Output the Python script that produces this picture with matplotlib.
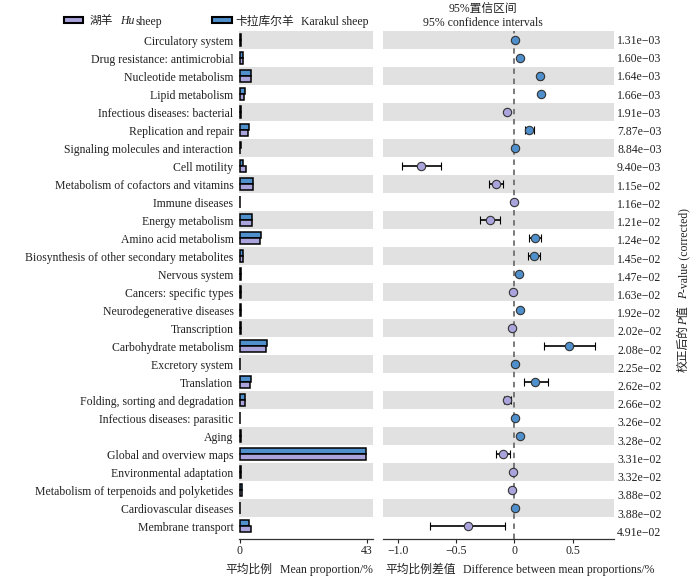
import matplotlib
matplotlib.use('Agg')
import matplotlib.pyplot as plt
from matplotlib.patches import Rectangle
import matplotlib.transforms as mtransforms
import numpy as np

plt.rcParams['font.family'] = ['Liberation Serif', 'Noto Sans CJK SC']
plt.rcParams['axes.unicode_minus'] = True

categories = [
    "Circulatory system", "Drug resistance: antimicrobial", "Nucleotide metabolism",
    "Lipid metabolism", "Infectious diseases: bacterial", "Replication and repair",
    "Signaling molecules and interaction", "Cell motility",
    "Metabolism of cofactors and vitamins", "Immune diseases", "Energy metabolism",
    "Amino acid metabolism", "Biosynthesis of other secondary metabolites",
    "Nervous system", "Cancers: specific types", "Neurodegenerative diseases",
    "Transcription", "Carbohydrate metabolism", "Excretory system", "Translation",
    "Folding, sorting and degradation", "Infectious diseases: parasitic", "Aging",
    "Global and overview maps", "Environmental adaptation",
    "Metabolism of terpenoids and polyketides", "Cardiovascular diseases",
    "Membrane transport",
]
hu_mean = [0.28, 0.95, 3.75, 1.55, 0.45, 2.85, 0.25, 2.0, 4.6, 0.2, 4.3, 6.85, 1.0,
           0.3, 0.35, 0.4, 0.35, 8.9, 0.1, 3.5, 1.7, 0.15, 0.3, 42.8, 0.3, 0.8, 0.2, 3.7]
karakul_mean = [0.28, 1.0, 3.97, 1.78, 0.38, 2.98, 0.26, 1.2, 4.44, 0.19, 4.09, 7.03, 1.17,
                0.34, 0.335, 0.45, 0.33, 9.37, 0.106, 3.68, 1.64, 0.156, 0.35, 42.7, 0.285,
                0.78, 0.2, 3.3]
diff = [0.003, 0.05, 0.222, 0.228, -0.065, 0.128, 0.006, -0.80, -0.16, -0.006, -0.207,
        0.176, 0.165, 0.044, -0.015, 0.047, -0.02, 0.47, 0.006, 0.182, -0.06, 0.006,
        0.05, -0.094, -0.015, -0.018, 0.003, -0.40]
ci_low = [-0.001, 0.042, 0.207, 0.218, -0.072, 0.09, 0.002, -0.965, -0.214, -0.01,
          -0.29, 0.128, 0.114, 0.038, -0.02, 0.041, -0.025, 0.254, 0.002, 0.083, -0.086,
          0.002, 0.038, -0.154, -0.02, -0.023, -0.001, -0.72]
ci_high = [0.007, 0.058, 0.237, 0.238, -0.058, 0.168, 0.01, -0.63, -0.097, -0.002,
           -0.12, 0.228, 0.219, 0.05, -0.01, 0.053, -0.015, 0.69, 0.01, 0.29, -0.032,
           0.01, 0.062, -0.034, -0.01, -0.013, 0.007, -0.077]
p_values = ["1.31e−03", "1.60e−03", "1.64e−03", "1.66e−03", "1.91e−03", "7.87e−03",
            "8.84e−03", "9.40e−03", "1.15e−02", "1.16e−02", "1.21e−02", "1.24e−02",
            "1.45e−02", "1.47e−02", "1.63e−02", "1.92e−02", "2.02e−02", "2.08e−02",
            "2.25e−02", "2.62e−02", "2.66e−02", "3.26e−02", "3.28e−02", "3.31e−02",
            "3.32e−02", "3.88e−02", "3.88e−02", "4.91e−02"]
left_ticks = [0, 43]
right_ticks = [-1.0, -0.5, 0, 0.5]
right_tick_labels = ["−1.0", "−0.5", "0", "0.5"]

BLUE = '#4f8fcb'
PURPLE = '#aaa4dc'
BAND = '#e1e1e1'
FS = 8.5

W, H = 700, 578
fig = plt.figure(figsize=(7, 5.78), dpi=100)


def fx(x):
    return x / W


def fy(y):
    return 1 - y / H


top_px, bot_px = 31, 539
axL = fig.add_axes([fx(239), fy(bot_px), (373 - 239) / W, (bot_px - top_px) / H])
axR = fig.add_axes([fx(383), fy(bot_px), (614 - 383) / W, (bot_px - top_px) / H])

n = len(categories)
y = np.arange(n)
for ax in (axL, axR):
    for i in range(0, n, 2):
        ax.axhspan(i - 0.48, i + 0.48, color=BAND, lw=0, zorder=0)
    ax.set_ylim(n - 1 + 0.72, -0.5)
    for s in ['top', 'right', 'left']:
        ax.spines[s].set_visible(False)
    ax.spines['bottom'].set_linewidth(0.9)
    ax.spines['bottom'].set_color('#333333')
    ax.tick_params(axis='y', length=0)
    ax.tick_params(axis='x', labelsize=FS, length=3, width=0.8, direction='out', pad=1.5,
                   colors='#222222')

# Left: bars
axL.barh(y - 0.175, karakul_mean, height=0.35, color=BLUE, edgecolor='black', lw=1.1, zorder=2)
axL.barh(y + 0.175, hu_mean, height=0.35, color=PURPLE, edgecolor='black', lw=1.1, zorder=2)
axL.set_xlim(-0.25, 45.1)
axL.set_xticks(left_ticks)
axL.set_xticklabels([str(t) for t in left_ticks])
axL.set_yticks(y)
axL.set_yticklabels(categories, fontsize=FS, color='#222222')
axL.tick_params(axis='y', pad=4)

# Right: differences with CIs
axR.axvline(0, color='#707070', lw=1.3, ls=(0, (3, 2.6)), zorder=1)
for i in range(n):
    c = BLUE if diff[i] > 0 else PURPLE
    axR.errorbar(diff[i], i, xerr=[[diff[i] - ci_low[i]], [ci_high[i] - diff[i]]],
                 fmt='o', color=c, ecolor='black', elinewidth=1.2, capsize=3, capthick=1.2,
                 ms=6, mec='#333333', mew=0.8, zorder=3)
axR.set_xlim(-1.125, 0.855)
axR.set_xticks(right_ticks)
axR.set_xticklabels(right_tick_labels)
axR.set_yticks([])

trans = mtransforms.blended_transform_factory(axR.transAxes, axR.transData)
for i, p in enumerate(p_values):
    axR.text(1.013, i * 1.012 + 0.05, p, transform=trans, ha='left', va='center',
             fontsize=FS, color='#222222')

renderer = fig.canvas.get_renderer()


def segments(x_px, y_px, segs, fontsize=FS, rotation=0, align='center'):
    """segs: list of (text, style, gap_after_px)."""
    objs, widths = [], []
    for s, style, gap in segs:
        t = fig.text(0, 0, s, fontsize=fontsize, style=style, ha='left', va='baseline',
                     color='#222222')
        bb = t.get_window_extent(renderer)
        objs.append(t)
        widths.append(bb.width)
    total = sum(widths) + sum(g for _, _, g in segs[:-1])
    if rotation == 0:
        cur = x_px - total / 2 if align == 'center' else x_px
        for t, w, (_, _, gap) in zip(objs, widths, segs):
            t.set_position((fx(cur), fy(y_px)))
            cur += w + gap
    else:
        cur = y_px + total / 2
        for t, w, (_, _, gap) in zip(objs, widths, segs):
            t.set_rotation(90)
            t.set_rotation_mode('anchor')
            t.set_position((fx(x_px), fy(cur)))
            cur -= w + gap
    return objs


# Legend
for (x0, x1, col) in [(64, 83, PURPLE), (212, 232, BLUE)]:
    fig.patches.append(Rectangle((fx(x0), fy(23)), (x1 - x0) / W, 6 / H, transform=fig.transFigure,
                                 facecolor=col, edgecolor='black', lw=1.5))
segments(90, 24.5, [("湖羊", 'normal', 7), ("Hu", 'italic', 1), ("sheep", 'normal', 0)],
         fontsize=8.5, align='left')
segments(235, 24.5, [("卡拉库尔羊", 'normal', 7), ("Karakul sheep", 'normal', 0)],
         fontsize=8.5, align='left')

# Title above right panel
fig.text(fx(483), fy(10), "95%置信区间", ha='center', va='center', fontsize=FS, color='#222222')
fig.text(fx(483), fy(23.5), "95% confidence intervals", ha='center', va='center', fontsize=FS,
         color='#222222')

# Axis labels
segments(299, 573, [("平均比例", 'normal', 7), ("Mean proportion/%", 'normal', 0)], fontsize=8.5)
segments(520, 573, [("平均比例差值", 'normal', 7),
                    ("Difference between mean proportions/%", 'normal', 0)], fontsize=8.5)

# Right vertical label
segments(687, 290, [("校正后的", 'normal', 0), ("P", 'italic', 0), ("值", 'normal', 7),
                    ("P", 'italic', 0), ("-value (corrected)", 'normal', 0)],
         fontsize=8.5, rotation=90)

fig.savefig('out.png', dpi=100)
